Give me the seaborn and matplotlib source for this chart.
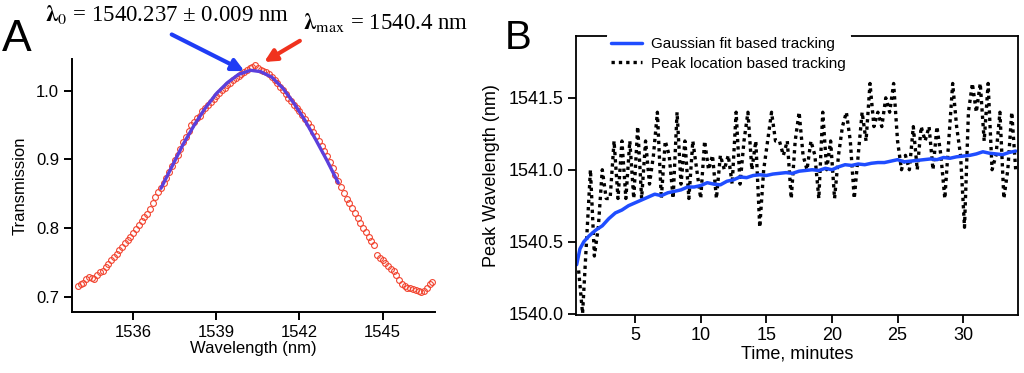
import numpy as np
import pandas as pd
import seaborn as sns
import matplotlib.pyplot as plt

# Panel A: transmission spectrum (open circles) and Gaussian fit
wavelength = [
    1534.0, 1534.1, 1534.2, 1534.3, 1534.4, 1534.5, 1534.6, 1534.7, 1534.8, 1534.9,
    1535.0, 1535.1, 1535.2, 1535.3, 1535.4, 1535.5, 1535.6, 1535.7, 1535.8, 1535.9,
    1536.0, 1536.1, 1536.2, 1536.3, 1536.4, 1536.5, 1536.6, 1536.7, 1536.8, 1536.9,
    1537.0, 1537.1, 1537.2, 1537.3, 1537.4, 1537.5, 1537.6, 1537.7, 1537.8, 1537.9,
    1538.0, 1538.1, 1538.2, 1538.3, 1538.4, 1538.5, 1538.6, 1538.7, 1538.8, 1538.9,
    1539.0, 1539.1, 1539.2, 1539.3, 1539.4, 1539.5, 1539.6, 1539.7, 1539.8, 1539.9,
    1540.0, 1540.1, 1540.2, 1540.3, 1540.4, 1540.5, 1540.6, 1540.7, 1540.8, 1540.9,
    1541.0, 1541.1, 1541.2, 1541.3, 1541.4, 1541.5, 1541.6, 1541.7, 1541.8, 1541.9,
    1542.0, 1542.1, 1542.2, 1542.3, 1542.4, 1542.5, 1542.6, 1542.7, 1542.8, 1542.9,
    1543.0, 1543.1, 1543.2, 1543.3, 1543.4, 1543.5, 1543.6, 1543.7, 1543.8, 1543.9,
    1544.0, 1544.1, 1544.2, 1544.3, 1544.4, 1544.5, 1544.6, 1544.7, 1544.8, 1544.9,
    1545.0, 1545.1, 1545.2, 1545.3, 1545.4, 1545.5, 1545.6, 1545.7, 1545.8, 1545.9,
    1546.0, 1546.1, 1546.2, 1546.3, 1546.4, 1546.5, 1546.6, 1546.7, 1546.8,
]
transmission = [
    0.716, 0.718, 0.720, 0.726, 0.729, 0.727, 0.726, 0.731, 0.736, 0.738,
    0.744, 0.748, 0.754, 0.758, 0.763, 0.768, 0.772, 0.778, 0.783, 0.787,
    0.793, 0.799, 0.805, 0.811, 0.816, 0.820, 0.828, 0.836, 0.845, 0.853,
    0.858, 0.866, 0.873, 0.882, 0.890, 0.899, 0.907, 0.915, 0.925, 0.933,
    0.941, 0.950, 0.955, 0.960, 0.964, 0.970, 0.975, 0.980, 0.984, 0.988,
    0.992, 0.997, 1.001, 1.004, 1.008, 1.012, 1.016, 1.019, 1.022, 1.024,
    1.027, 1.030, 1.033, 1.035, 1.037, 1.034, 1.031, 1.029, 1.027, 1.024,
    1.020, 1.016, 1.011, 1.006, 1.001, 0.996, 0.990, 0.985, 0.980, 0.975,
    0.970, 0.965, 0.959, 0.953, 0.947, 0.940, 0.934, 0.927, 0.920, 0.913,
    0.905, 0.897, 0.888, 0.878, 0.869, 0.860, 0.851, 0.843, 0.836, 0.829,
    0.822, 0.815, 0.807, 0.800, 0.794, 0.787, 0.781, 0.775, 0.761, 0.757,
    0.753, 0.749, 0.745, 0.741, 0.737, 0.731, 0.725, 0.719, 0.715, 0.713,
    0.712, 0.711, 0.710, 0.709, 0.707, 0.709, 0.713, 0.718, 0.722,
]
fit_wavelength = [1537.0, 1537.4, 1537.8, 1538.2, 1538.6, 1539.0, 1539.4, 1539.8,
                  1540.24, 1540.6, 1541.0, 1541.4, 1541.8, 1542.2, 1542.6, 1543.0, 1543.4]
fit_transmission = [0.858, 0.890, 0.922, 0.950, 0.975, 0.996, 1.012, 1.024,
                    1.030, 1.028, 1.020, 1.004, 0.982, 0.957, 0.928, 0.898, 0.866]

# Panel B: peak wavelength tracking over time
gauss_time = [0.55, 0.8, 1.1, 1.5, 2.0, 2.5, 3.0, 3.5, 4.0, 4.5, 5.0, 5.5, 6.0, 6.5,
              7.0, 7.5, 8.0, 8.5, 9.0, 9.5, 10.0, 10.5, 11.0, 11.5, 12.0, 12.5, 13.0,
              13.5, 14.0, 14.5, 15.0, 15.5, 16.0, 16.5, 17.0, 17.5, 18.0, 18.5, 19.0,
              19.5, 20.0, 20.5, 21.0, 21.5, 22.0, 22.5, 23.0, 23.5, 24.0, 24.5, 25.0,
              25.5, 26.0, 26.5, 27.0, 27.5, 28.0, 28.5, 29.0, 29.5, 30.0, 30.5, 31.0,
              31.5, 32.0, 32.5, 33.0, 33.5, 34.0]
gauss_peak = [1540.34, 1540.45, 1540.50, 1540.54, 1540.58, 1540.61, 1540.66, 1540.70,
              1540.72, 1540.75, 1540.77, 1540.79, 1540.81, 1540.83, 1540.82, 1540.84,
              1540.85, 1540.86, 1540.88, 1540.88, 1540.89, 1540.91, 1540.90, 1540.895,
              1540.92, 1540.93, 1540.95, 1540.945, 1540.96, 1540.965, 1540.96, 1540.97,
              1540.975, 1540.98, 1540.975, 1540.99, 1540.995, 1541.00, 1540.995, 1541.01,
              1541.00, 1541.02, 1541.035, 1541.03, 1541.04, 1541.035, 1541.045, 1541.05,
              1541.05, 1541.06, 1541.07, 1541.055, 1541.06, 1541.065, 1541.07, 1541.075,
              1541.07, 1541.085, 1541.08, 1541.09, 1541.095, 1541.10, 1541.11, 1541.125,
              1541.115, 1541.11, 1541.105, 1541.12, 1541.13]

peak_time = [0.7, 1.0, 1.3, 1.6, 1.9, 2.2, 2.5, 2.8, 3.1, 3.4, 3.7, 4.0, 4.3, 4.6, 4.9,
             5.2, 5.5, 5.8, 6.1, 6.4, 6.7, 7.0, 7.3, 7.6, 7.9, 8.2, 8.5, 8.8, 9.1, 9.4,
             9.7, 10.0, 10.3, 10.6, 10.9, 11.2, 11.5, 11.8, 12.1, 12.4, 12.7, 13.0, 13.3,
             13.6, 13.9, 14.2, 14.5, 14.8, 15.1, 15.4, 15.7, 16.0, 16.3, 16.6, 16.9, 17.2,
             17.5, 17.8, 18.1, 18.4, 18.7, 19.0, 19.3, 19.6, 19.9, 20.2, 20.5, 20.8, 21.1,
             21.4, 21.7, 22.0, 22.3, 22.6, 22.9, 23.2, 23.5, 23.8, 24.1, 24.4, 24.7, 25.0,
             25.3, 25.6, 25.9, 26.2, 26.5, 26.8, 27.1, 27.4, 27.7, 28.0, 28.3, 28.6, 28.9,
             29.2, 29.5, 29.8, 30.1, 30.4, 30.7, 31.0, 31.3, 31.6, 31.9, 32.2, 32.5, 32.8,
             33.1, 33.4, 33.7, 34.0]
peak_loc = [1540.3, 1540.0, 1540.5, 1541.0, 1540.4, 1540.6, 1541.0, 1540.8, 1540.8, 1541.2,
            1540.8, 1541.2, 1540.8, 1541.2, 1540.8, 1541.3, 1540.8, 1541.2, 1540.9, 1541.1,
            1541.4, 1540.8, 1541.2, 1541.1, 1540.8, 1541.4, 1540.9, 1541.2, 1540.8, 1541.2,
            1541.0, 1540.8, 1541.2, 1541.0, 1541.1, 1540.8, 1541.1, 1541.0, 1541.1, 1540.9,
            1541.4, 1540.9, 1541.2, 1541.4, 1541.0, 1541.2, 1540.6, 1541.0, 1541.2, 1541.4,
            1541.2, 1541.2, 1541.1, 1541.2, 1540.8, 1541.2, 1541.4, 1541.1, 1541.0, 1541.2,
            1541.1, 1540.8, 1541.4, 1541.0, 1541.2, 1540.8, 1541.1, 1541.3, 1541.4, 1541.2,
            1540.8, 1541.1, 1541.4, 1541.2, 1541.6, 1541.3, 1541.4, 1541.3, 1541.5, 1541.4,
            1541.6, 1541.2, 1541.0, 1541.1, 1541.0, 1541.3, 1541.0, 1541.3, 1541.2, 1541.3,
            1541.0, 1541.3, 1541.1, 1540.8, 1541.2, 1541.6, 1541.3, 1541.1, 1540.6, 1541.4,
            1541.6, 1541.4, 1541.6, 1541.2, 1541.6, 1541.0, 1541.1, 1541.4, 1540.8, 1541.0,
            1541.4, 1541.0]

sns.set_style("ticks")
plt.rcParams["font.family"] = ["Liberation Sans", "DejaVu Sans"]
plt.rcParams["mathtext.fontset"] = "stix"
for key in ["text.color", "axes.labelcolor", "xtick.color", "ytick.color"]:
    plt.rcParams[key] = "black"

fig = plt.figure(figsize=(10.24, 3.73), dpi=100)
ax1 = fig.add_axes([0.0706, 0.164, 0.3544, 0.677])
ax2 = fig.add_axes([0.5625, 0.1555, 0.4313, 0.748])

# ---- Panel A ----
sns.lineplot(x=wavelength, y=transmission, ax=ax1, marker="o", linestyle="none",
             color="#f2442f", mfc="none", mec="#f2442f", ms=4.2, mew=0.8)
sns.lineplot(x=fit_wavelength, y=fit_transmission, ax=ax1, color="#5b3fdc", lw=2.4)
ax1.set_xlim(1533.8, 1546.9)
ax1.set_ylim(0.678, 1.046)
ax1.set_xticks([1536, 1539, 1542, 1545])
ax1.set_yticks([0.7, 0.8, 0.9, 1.0])
ax1.set_yticklabels(["0.7", "0.8", "0.9", "1.0"])
ax1.set_xlabel("Wavelength (nm)", fontsize=12, labelpad=1)
ax1.set_ylabel("Transmission", fontsize=12, labelpad=6)
ax1.tick_params(labelsize=12, length=6, width=1.4, direction="out", color="black")
sns.despine(ax=ax1)
for s in ["left", "bottom"]:
    ax1.spines[s].set_linewidth(1.4)
    ax1.spines[s].set_color("black")

ax1.annotate("", xy=(1540.1, 1.027), xytext=(1537.3, 1.084),
             arrowprops=dict(arrowstyle="-|>", lw=3, color="#1f3cf5", mutation_scale=18),
             annotation_clip=False)
ax1.annotate("", xy=(1540.64, 1.040), xytext=(1542.1, 1.075),
             arrowprops=dict(arrowstyle="-|>", lw=3, color="#f0321e", mutation_scale=18),
             annotation_clip=False)

fig.text(0.044, 0.960, r"$\boldsymbol{\lambda}_{0}$ = 1540.237 ± 0.009 nm",
         fontsize=16.5, family="Liberation Serif", va="center", ha="left")
fig.text(0.296, 0.940, r"$\boldsymbol{\lambda}_{\rm max}$ = 1540.4 nm",
         fontsize=16.5, family="Liberation Serif", va="center", ha="left")
fig.text(0.002, 0.895, "A", fontsize=32, va="center", ha="left")
fig.text(0.493, 0.897, "B", fontsize=29, va="center", ha="left")

# ---- Panel B ----
sns.lineplot(x=peak_time, y=peak_loc, ax=ax2, color="black", lw=2.4,
             linestyle=(0, (1, 1.2)), label="Peak location based tracking")
sns.lineplot(x=gauss_time, y=gauss_peak, ax=ax2, color="#1f4dff", lw=2.5,
             label="Gaussian fit based tracking")
ax2.set_xlim(0.5, 34.15)
ax2.set_ylim(1539.99, 1541.93)
ax2.set_xticks([5, 10, 15, 20, 25, 30])
ax2.set_yticks([1540.0, 1540.5, 1541.0, 1541.5])
ax2.set_yticklabels(["1540.0", "1540.5", "1541.0", "1541.5"])
ax2.set_xlabel("Time, minutes", fontsize=13, labelpad=1)
ax2.set_ylabel("Peak Wavelength (nm)", fontsize=13, labelpad=6)
ax2.tick_params(labelsize=13, length=5.5, width=1.3, direction="out", color="black")
for s in ax2.spines.values():
    s.set_linewidth(1.3)
    s.set_color("black")

handles, labels = ax2.get_legend_handles_labels()
leg = ax2.legend(handles[::-1], labels[::-1], loc="upper left",
                 bbox_to_anchor=(0.07, 1.012), fontsize=11, frameon=True,
                 handlelength=2.0, handletextpad=0.6, labelspacing=0.35,
                 borderpad=0.3, borderaxespad=0)
leg.get_frame().set_facecolor("white")
leg.get_frame().set_edgecolor("none")
leg.get_frame().set_alpha(1)

plt.savefig("out.png", dpi=100)
